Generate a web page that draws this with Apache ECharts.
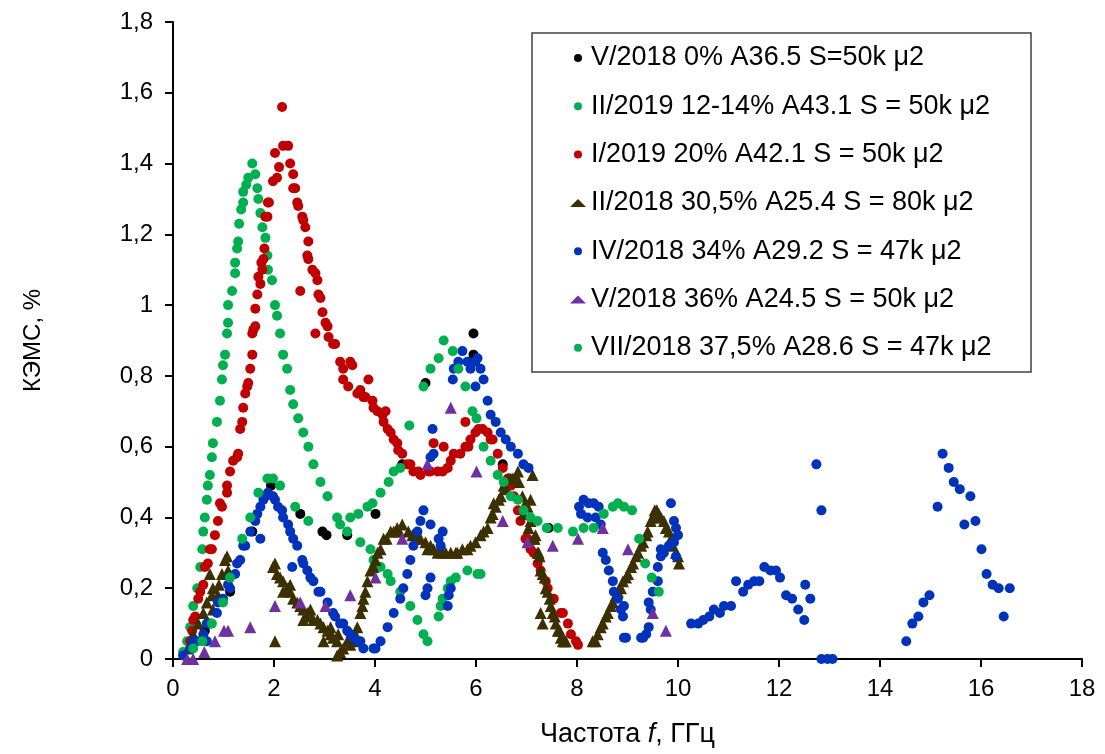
<!DOCTYPE html>
<html>
<head>
<meta charset="utf-8">
<script src="https://cdn.jsdelivr.net/npm/echarts@6/dist/echarts.min.js"></script>
<style>
  html, body { margin: 0; padding: 0; background: #fff; }
  #chart { width: 1105px; height: 754px; }
</style>
</head>
<body>
<div id="chart"></div>
<script>
// legend names
const seriesNames = [
  'V/2018 0% A36.5 S=50k μ2',
  'II/2019 12-14% A43.1 S = 50k μ2',
  'I/2019 20% A42.1 S = 50k μ2',
  'II/2018 30,5% A25.4 S = 80k μ2',
  'IV/2018 34% A29.2 S = 47k μ2',
  'V/2018 36% A24.5 S = 50k μ2',
  'VII/2018 37,5% A28.6 S = 47k μ2'
];

const xTicks = [0, 2, 4, 6, 8, 10, 12, 14, 16, 18];
const yTicks = [0, 0.2, 0.4, 0.6, 0.8, 1, 1.2, 1.4, 1.6, 1.8];

// [frequency GHz, value %]
const blackV2018 = [
  [0.63, 0.08], [1.13, 0.19], [1.57, 0.36], [1.94, 0.49], [2.52, 0.41], [2.96, 0.36],
  [3.04, 0.35], [3.45, 0.35], [4.01, 0.41], [4.54, 0.55], [5.00, 0.78], [5.95, 0.92],
  [5.95, 0.86], [6.53, 0.55], [7.44, 0.37]
];

const greenII2019 = [
  [0.20, 0.02], [0.28, 0.05], [0.34, 0.09], [0.40, 0.15], [0.48, 0.20], [0.54, 0.26],
  [0.58, 0.31], [0.60, 0.36], [0.63, 0.40], [0.67, 0.45], [0.69, 0.49], [0.73, 0.52],
  [0.77, 0.57], [0.79, 0.61], [0.87, 0.67], [0.93, 0.73], [0.97, 0.79], [0.99, 0.83],
  [1.03, 0.86], [1.07, 0.92], [1.09, 0.95], [1.09, 1.00], [1.17, 1.04], [1.23, 1.09],
  [1.23, 1.12], [1.27, 1.16], [1.29, 1.18], [1.31, 1.23], [1.35, 1.27], [1.39, 1.29],
  [1.39, 1.32], [1.45, 1.34], [1.49, 1.36], [1.57, 1.40], [1.63, 1.37], [1.67, 1.33],
  [1.69, 1.30], [1.73, 1.26], [1.77, 1.22], [1.83, 1.19], [1.87, 1.14], [1.88, 1.10],
  [1.96, 1.07], [2.02, 1.00], [2.06, 0.97], [2.12, 0.92], [2.18, 0.86], [2.26, 0.82],
  [2.32, 0.76], [2.38, 0.72], [2.48, 0.68], [2.58, 0.64], [2.68, 0.60], [2.78, 0.55],
  [2.92, 0.50], [3.06, 0.46], [3.25, 0.40], [3.45, 0.36], [3.71, 0.33], [3.91, 0.31],
  [3.97, 0.28], [4.11, 0.26], [4.25, 0.24], [4.31, 0.22], [4.50, 0.19], [4.70, 0.15],
  [4.84, 0.11], [4.96, 0.07], [5.04, 0.05],
  [5.26, 0.12], [5.30, 0.15], [5.34, 0.17], [5.44, 0.20], [5.50, 0.22], [5.60, 0.23],
  [5.83, 0.25], [6.03, 0.24], [6.09, 0.24]
];

const redI2019 = [
  [0.34, 0.05], [0.38, 0.08], [0.40, 0.11], [0.44, 0.12], [0.50, 0.17], [0.54, 0.19],
  [0.60, 0.21], [0.63, 0.26], [0.69, 0.27], [0.73, 0.31], [0.77, 0.31], [0.83, 0.35],
  [0.89, 0.39], [0.93, 0.44], [0.97, 0.43], [1.07, 0.47], [1.07, 0.49], [1.13, 0.53],
  [1.19, 0.56], [1.27, 0.57], [1.29, 0.58], [1.33, 0.65], [1.37, 0.67], [1.39, 0.71],
  [1.43, 0.75], [1.47, 0.77], [1.49, 0.78], [1.53, 0.82], [1.57, 0.86], [1.57, 0.92],
  [1.59, 0.93], [1.63, 0.94], [1.63, 0.99], [1.67, 1.03], [1.69, 1.08], [1.73, 1.06],
  [1.75, 1.12], [1.77, 1.10], [1.79, 1.13], [1.81, 1.16], [1.83, 1.25], [1.87, 1.25],
  [1.88, 1.29], [1.90, 1.29], [1.98, 1.35], [2.02, 1.43], [2.06, 1.36], [2.10, 1.39],
  [2.16, 1.56], [2.18, 1.45], [2.28, 1.45], [2.32, 1.40], [2.38, 1.37], [2.38, 1.33],
  [2.42, 1.33], [2.46, 1.29], [2.48, 1.28], [2.56, 1.25], [2.58, 1.24], [2.62, 1.22],
  [2.66, 1.14], [2.68, 1.18], [2.68, 1.13], [2.76, 1.10], [2.82, 1.09], [2.86, 1.07],
  [2.88, 1.03], [2.92, 1.02], [2.96, 0.98], [3.02, 0.95], [3.06, 0.94], [3.08, 0.91],
  [2.82, 0.92], [2.52, 1.04], [3.17, 0.89], [3.21, 0.89], [3.31, 0.84], [3.37, 0.82],
  [3.37, 0.79], [3.47, 0.77], [3.51, 0.84], [3.55, 0.83], [3.65, 0.75], [3.71, 0.76],
  [3.77, 0.74], [3.81, 0.74], [3.87, 0.79], [3.95, 0.73], [3.97, 0.71], [4.05, 0.70],
  [4.15, 0.69], [4.17, 0.67], [4.21, 0.70], [4.25, 0.65], [4.31, 0.64], [4.37, 0.62],
  [4.44, 0.61], [4.46, 0.59], [4.54, 0.58], [4.64, 0.55], [4.70, 0.55], [4.76, 0.53],
  [4.86, 0.53], [4.90, 0.52], [5.06, 0.53], [5.10, 0.53], [5.24, 0.53], [5.34, 0.53],
  [5.16, 0.61], [5.36, 0.60], [5.44, 0.54], [5.50, 0.56], [5.56, 0.58], [5.69, 0.58],
  [5.79, 0.60], [5.85, 0.60], [5.89, 0.62], [5.99, 0.64], [6.05, 0.65], [6.13, 0.65],
  [6.23, 0.64], [5.79, 0.67], [6.29, 0.62], [6.33, 0.62], [6.43, 0.58], [6.53, 0.54],
  [6.63, 0.51], [6.69, 0.49], [6.75, 0.46], [6.83, 0.42], [6.88, 0.39], [6.98, 0.34],
  [7.02, 0.34], [7.08, 0.31], [7.14, 0.30], [7.22, 0.27], [7.28, 0.25], [7.38, 0.22],
  [7.42, 0.20], [7.54, 0.17], [7.68, 0.13], [7.72, 0.13], [7.82, 0.10], [7.88, 0.07],
  [7.98, 0.05], [8.02, 0.04]
];

const brownII2018 = [
  [0.30, 0.03], [0.40, 0.07], [0.50, 0.10], [0.60, 0.13], [0.67, 0.16], [0.77, 0.18],
  [0.79, 0.14], [0.79, 0.20], [0.73, 0.24], [0.89, 0.18], [0.91, 0.21], [0.97, 0.24],
  [1.03, 0.28], [1.07, 0.29], [1.09, 0.25], [2.02, 0.05],
  [1.98, 0.26], [2.02, 0.27], [2.06, 0.24], [2.12, 0.23], [2.18, 0.22], [2.18, 0.19],
  [2.26, 0.20], [2.32, 0.21], [2.32, 0.19], [2.38, 0.17], [2.46, 0.16], [2.52, 0.15],
  [2.58, 0.14], [2.58, 0.11], [2.66, 0.13], [2.72, 0.14], [2.72, 0.12], [2.78, 0.11],
  [2.86, 0.11], [2.92, 0.10], [2.98, 0.09], [2.98, 0.05], [3.06, 0.08], [3.12, 0.09],
  [3.12, 0.07], [3.17, 0.06], [3.25, 0.05], [3.25, 0.01], [3.27, 0.07], [3.31, 0.02],
  [3.37, 0.03], [3.45, 0.05], [3.51, 0.04], [3.57, 0.05], [3.61, 0.07], [3.65, 0.09],
  [3.71, 0.13], [3.75, 0.15], [3.77, 0.17], [3.81, 0.19], [3.85, 0.22], [3.91, 0.25],
  [3.97, 0.26], [4.01, 0.28], [4.05, 0.30], [4.11, 0.31], [4.17, 0.34], [4.23, 0.34],
  [4.31, 0.36], [4.37, 0.36], [4.44, 0.37], [4.48, 0.36], [4.54, 0.38], [4.66, 0.36],
  [4.74, 0.35], [4.84, 0.34], [4.90, 0.34], [5.00, 0.33], [5.04, 0.31], [5.10, 0.32],
  [5.16, 0.31], [5.24, 0.30], [5.30, 0.31], [5.34, 0.30], [5.40, 0.30], [5.50, 0.30],
  [5.60, 0.30], [5.63, 0.30], [5.73, 0.31], [5.83, 0.31], [5.89, 0.32], [5.99, 0.33],
  [6.09, 0.35], [6.15, 0.36], [6.23, 0.37], [6.29, 0.40], [6.33, 0.41], [6.35, 0.44],
  [6.39, 0.43], [6.45, 0.45], [6.49, 0.46], [6.55, 0.49], [6.57, 0.49], [6.59, 0.48],
  [6.65, 0.51], [6.69, 0.51], [6.73, 0.51], [6.79, 0.51], [6.85, 0.50], [6.92, 0.46],
  [6.94, 0.41], [6.98, 0.44], [7.02, 0.43], [7.08, 0.45], [7.08, 0.39], [7.12, 0.52],
  [6.83, 0.53], [7.04, 0.37], [7.14, 0.34], [7.16, 0.34], [7.18, 0.35], [7.22, 0.30],
  [7.24, 0.30], [7.26, 0.29], [7.28, 0.25], [7.32, 0.24], [7.36, 0.23], [7.38, 0.20],
  [7.42, 0.19], [7.46, 0.17], [7.48, 0.15], [7.52, 0.13], [7.56, 0.12], [7.58, 0.10],
  [7.62, 0.08], [7.66, 0.08], [7.68, 0.06], [7.72, 0.05], [7.76, 0.05], [7.78, 0.05],
  [7.28, 0.13], [7.32, 0.10],
  [8.31, 0.05], [8.37, 0.05], [8.41, 0.07], [8.47, 0.09], [8.51, 0.10], [8.57, 0.12],
  [8.61, 0.13], [8.67, 0.15], [8.71, 0.16], [8.77, 0.18], [8.81, 0.19], [8.87, 0.20],
  [8.91, 0.22], [8.97, 0.23], [9.01, 0.24], [9.07, 0.26], [9.11, 0.27], [9.17, 0.29],
  [9.21, 0.30], [9.27, 0.32], [9.31, 0.33], [9.37, 0.35], [9.40, 0.36], [9.46, 0.39],
  [9.50, 0.40], [9.54, 0.42], [9.58, 0.42], [9.62, 0.41], [9.66, 0.40], [9.72, 0.39],
  [9.76, 0.37], [9.82, 0.36], [9.86, 0.34], [9.90, 0.32], [9.96, 0.30], [10.00, 0.29],
  [10.02, 0.27]
];

const blueIV2018 = [
  [0.20, 0.01], [0.34, 0.03], [0.40, 0.05], [0.48, 0.05], [0.60, 0.07], [0.67, 0.10],
  [0.73, 0.10], [0.67, 0.05], [0.87, 0.13], [0.89, 0.16], [0.99, 0.17], [1.09, 0.21],
  [1.13, 0.20], [1.23, 0.24], [1.27, 0.27], [1.33, 0.28], [1.39, 0.32], [1.43, 0.32],
  [1.53, 0.36], [1.63, 0.39], [1.67, 0.41], [1.73, 0.43], [1.79, 0.45], [1.83, 0.46],
  [1.88, 0.47], [1.98, 0.46], [2.02, 0.45], [2.08, 0.43], [2.16, 0.42], [2.18, 0.40],
  [2.28, 0.38], [2.32, 0.36], [2.38, 0.34], [2.46, 0.32], [2.56, 0.28], [2.58, 0.27],
  [2.66, 0.25], [2.72, 0.23], [2.78, 0.22], [2.88, 0.19], [2.92, 0.19], [3.06, 0.16],
  [3.17, 0.13], [3.21, 0.12], [3.31, 0.10], [3.37, 0.10], [3.45, 0.08], [3.51, 0.07],
  [3.57, 0.06], [3.65, 0.05], [3.71, 0.05], [3.77, 0.03], [1.73, 0.34], [2.36, 0.26],
  [3.97, 0.03], [4.01, 0.03], [4.11, 0.05], [4.25, 0.09], [4.37, 0.13], [4.50, 0.17],
  [4.56, 0.20], [4.64, 0.24], [4.70, 0.28], [4.76, 0.32], [4.84, 0.36], [4.90, 0.39],
  [4.96, 0.42], [5.10, 0.38], [5.34, 0.36], [5.26, 0.34], [5.30, 0.32], [5.10, 0.23],
  [5.04, 0.20], [5.00, 0.18], [5.50, 0.20], [5.46, 0.18], [5.44, 0.15], [5.14, 0.65],
  [5.16, 0.58], [5.10, 0.57],
  [5.54, 0.79], [5.56, 0.82], [5.65, 0.84], [5.73, 0.87], [5.83, 0.84], [5.89, 0.82],
  [5.99, 0.84], [6.03, 0.85], [6.09, 0.82], [6.15, 0.79], [5.99, 0.77], [6.23, 0.73],
  [6.29, 0.69], [6.39, 0.67], [6.49, 0.64], [6.59, 0.62], [6.69, 0.60], [6.83, 0.58],
  [6.94, 0.55], [7.04, 0.54],
  [8.04, 0.43], [8.13, 0.45], [8.23, 0.44], [8.33, 0.44], [8.43, 0.43], [8.08, 0.41],
  [8.21, 0.40], [8.37, 0.40], [8.47, 0.38], [8.51, 0.30], [8.57, 0.28], [8.63, 0.25],
  [8.71, 0.22], [8.73, 0.19], [8.81, 0.17], [8.87, 0.14], [8.91, 0.12], [8.93, 0.06],
  [8.97, 0.06], [8.93, 0.15], [9.27, 0.06], [9.31, 0.06], [9.37, 0.07], [9.42, 0.09],
  [9.46, 0.14], [9.42, 0.16], [9.50, 0.19], [9.60, 0.22], [9.60, 0.26], [9.66, 0.29],
  [9.72, 0.30], [9.82, 0.32], [9.92, 0.33], [9.96, 0.29], [9.86, 0.44], [9.92, 0.39],
  [10.00, 0.35], [9.96, 0.37], [9.66, 0.31],
  [10.26, 0.10], [10.40, 0.10], [10.50, 0.11], [10.62, 0.12], [10.71, 0.14], [10.83, 0.13],
  [10.91, 0.15], [11.05, 0.15], [11.15, 0.22], [11.29, 0.19], [11.39, 0.21], [11.51, 0.22],
  [11.61, 0.22], [11.71, 0.26], [11.83, 0.25], [11.94, 0.25], [12.02, 0.23], [12.14, 0.18],
  [12.26, 0.17], [12.38, 0.14], [12.50, 0.11], [12.52, 0.21], [12.62, 0.17], [12.74, 0.55],
  [12.84, 0.42], [12.84, 0.00], [12.96, 0.00], [13.06, 0.00], [14.52, 0.05], [14.64, 0.10],
  [14.76, 0.12], [14.86, 0.16], [14.98, 0.18], [15.14, 0.43], [15.24, 0.58], [15.36, 0.54],
  [15.46, 0.50], [15.58, 0.48], [15.79, 0.46], [15.67, 0.38], [15.89, 0.39], [16.01, 0.31],
  [16.11, 0.24], [16.23, 0.21], [16.35, 0.20], [16.45, 0.12], [16.57, 0.20]
];

const purpleV2018 = [
  [0.28, 0.00], [0.40, 0.00], [0.62, 0.02], [0.83, 0.05], [1.01, 0.08], [1.09, 0.08],
  [1.53, 0.09], [2.02, 0.15], [2.52, 0.16], [3.02, 0.15], [3.51, 0.18], [4.01, 0.23],
  [4.54, 0.34], [5.04, 0.55], [5.50, 0.71], [6.01, 0.53], [6.53, 0.39], [7.02, 0.33],
  [7.52, 0.32], [8.02, 0.34], [8.51, 0.37], [9.01, 0.31], [9.50, 0.13], [9.76, 0.08]
];

const greenVII2018 = [
  [0.40, 0.03], [0.58, 0.05], [0.77, 0.10], [0.99, 0.16], [1.13, 0.23], [1.37, 0.34],
  [1.53, 0.40], [1.69, 0.47], [1.87, 0.51], [1.98, 0.51], [2.12, 0.49], [2.42, 0.43],
  [2.68, 0.39], [3.31, 0.38], [3.51, 0.40], [3.67, 0.41], [3.85, 0.43], [3.95, 0.44],
  [4.11, 0.47], [4.27, 0.50], [4.37, 0.53], [4.50, 0.54], [4.68, 0.66], [4.96, 0.77],
  [5.10, 0.82], [5.26, 0.85], [5.36, 0.90], [5.54, 0.87], [5.65, 0.82], [5.79, 0.77],
  [5.93, 0.70], [6.01, 0.68], [6.15, 0.60], [6.29, 0.56], [6.43, 0.52], [6.55, 0.50],
  [6.69, 0.46], [6.83, 0.45], [6.94, 0.42], [7.08, 0.40], [7.22, 0.39], [7.40, 0.37],
  [7.62, 0.37], [7.92, 0.36], [8.13, 0.37], [8.33, 0.37], [8.53, 0.41], [8.71, 0.43],
  [8.81, 0.44], [8.93, 0.43], [9.09, 0.42], [9.23, 0.34], [9.35, 0.27], [9.48, 0.23],
  [9.62, 0.19]
];

const colors = ['#000000', '#00b050', '#c00000', '#3d3000', '#0033bb', '#7030a0', '#00b050'];
const symbols = ['circle', 'circle', 'circle', 'triangle', 'circle', 'triangle', 'circle'];
const seriesData = [blackV2018, greenII2019, redI2019, brownII2018, blueIV2018, purpleV2018, greenVII2018];

const font = '"Liberation Sans", Arial, sans-serif';

const chart = echarts.init(document.getElementById('chart'), null, { renderer: 'canvas' });

const option = {
  backgroundColor: '#fff',
  animation: false,
  grid: { left: 173, right: 23, top: 22, bottom: 95, containLabel: false },
  graphic: {
    elements: [{
      type: 'rect',
      z: 3,
      shape: { x: 532, y: 33, width: 499, height: 339 },
      style: { fill: '#fff', stroke: '#404040', lineWidth: 1.5 }
    }]
  },
  legend: {
    orient: 'vertical',
    left: 532,
    top: 33,
    padding: [11, 10, 10, 38],
    z: 5,
    itemWidth: 16,
    itemHeight: 8,
    itemGap: 20.3,
    textStyle: { fontFamily: font, fontSize: 27, color: '#000', lineHeight: 28 },
    data: seriesNames.map((n, i) => ({ name: n, icon: symbols[i] }))
  },
  xAxis: {
    type: 'value',
    min: xTicks[0],
    max: xTicks[xTicks.length - 1],
    interval: 2,
    name: 'Частота {i|f}, ГГц',
    nameLocation: 'middle',
    nameGap: 62,
    nameTextStyle: {
      fontFamily: font, fontSize: 27, color: '#000',
      rich: { i: { fontFamily: font, fontSize: 27, fontStyle: 'italic', color: '#000' } }
    },
    axisLine: { lineStyle: { color: '#000', width: 2 } },
    axisTick: { length: 8, lineStyle: { color: '#000', width: 2 } },
    axisLabel: { fontFamily: font, fontSize: 24, color: '#000', margin: 18 },
    splitLine: { show: false }
  },
  yAxis: {
    type: 'value',
    min: yTicks[0],
    max: yTicks[yTicks.length - 1],
    interval: 0.2,
    name: 'КЭМС, %',
    nameLocation: 'middle',
    nameGap: 128,
    nameTextStyle: { fontFamily: font, fontSize: 24, color: '#000' },
    axisLine: { show: true, lineStyle: { color: '#000', width: 2 } },
    axisTick: { show: true, length: 8, lineStyle: { color: '#000', width: 2 } },
    axisLabel: {
      fontFamily: font, fontSize: 24, color: '#000', margin: 20,
      formatter: v => String(+v.toFixed(1)).replace('.', ',')
    },
    splitLine: { show: false }
  },
  series: seriesData.map((d, i) => ({
    name: seriesNames[i],
    type: 'scatter',
    data: d,
    symbol: symbols[i],
    symbolSize: symbols[i] === 'triangle' ? 12 : 10,
    itemStyle: { color: colors[i], opacity: 1 },
    z: 2 + i * 0.01
  }))
};

chart.setOption(option);
</script>
</body>
</html>
